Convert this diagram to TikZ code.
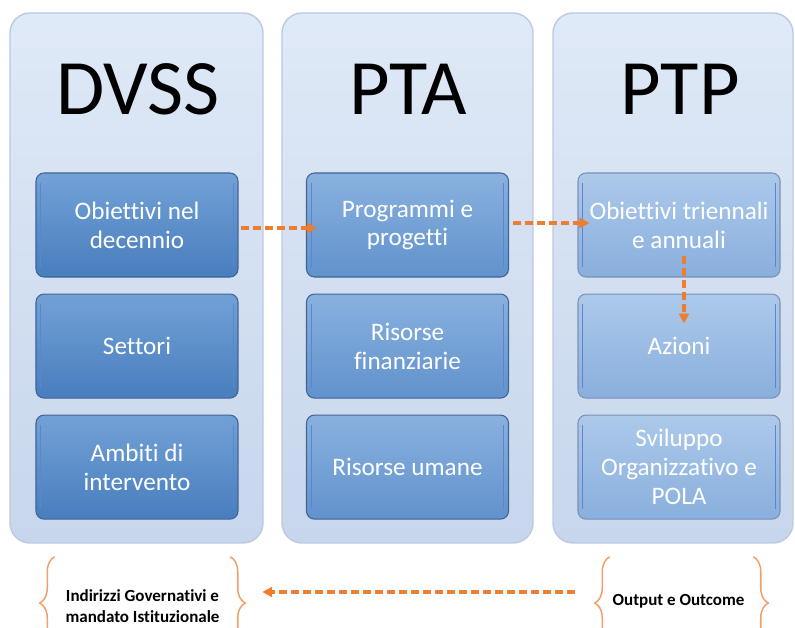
\documentclass[tikz,border=0pt]{standalone}
\usepackage{fontspec}
\setmainfont{Carlito}[Ligatures=NoCommon]
\usepackage{xcolor}
\definecolor{paneltop}{RGB}{223,233,247}
\definecolor{panelbottom}{RGB}{199,214,236}
\definecolor{paneledge}{RGB}{186,202,226}
\definecolor{dvsstop}{RGB}{114,161,214}
\definecolor{dvssbottom}{RGB}{72,126,190}
\definecolor{ptatop}{RGB}{137,177,223}
\definecolor{ptabottom}{RGB}{97,146,204}
\definecolor{ptptop}{RGB}{172,201,234}
\definecolor{ptpbottom}{RGB}{137,175,221}
\definecolor{boxedge}{RGB}{64,100,150}
\definecolor{myorange}{RGB}{237,125,49}
\definecolor{lightorange}{RGB}{242,160,105}
\usepackage{tikz}
\usetikzlibrary{calc}
\usetikzlibrary{positioning}
\usetikzlibrary{arrows.meta}
\usetikzlibrary{decorations.pathreplacing}
\newcommand{\widthbox}{6.06cm}
\newcommand{\heightbox}{3.12cm}
\newcommand{\heightpanel}{15.9cm}
\tikzset{
    panel/.style={draw=paneledge, line width=1.2pt, rounded corners=0.6cm,
        top color=paneltop, bottom color=panelbottom, minimum height=\heightpanel},
    common/.style={draw=boxedge, line width=0.9pt, rounded corners=0.24cm,
        minimum width=\widthbox, minimum height=\heightbox, inner sep=1pt,
        align=center, text=white, font=\fontsize{21.5}{24.7}\selectfont, bevel},
    dvssbox/.style={common, top color=dvsstop, bottom color=dvssbottom},
    ptabox/.style={common, top color=ptatop, bottom color=ptabottom},
    ptpbox/.style={common, top color=ptptop, bottom color=ptpbottom, draw=boxedge!70},
    bevel/.style={
        path picture={
            \draw[white!55!cyan!60!blue, line width=1.1pt]
                ($(path picture bounding box.north west)+(0.14cm,-0.3cm)$)
                  -- ($(path picture bounding box.south west)+(0.14cm,0.3cm)$)
                ($(path picture bounding box.north east)+(-0.14cm,-0.3cm)$)
                  -- ($(path picture bounding box.south east)+(-0.14cm,0.3cm)$);
        }
    },
    title/.style={anchor=base, font=\fontsize{67}{72}\selectfont},
    flow/.style={-{Triangle[length=0.3cm, width=0.3cm]}, myorange, line width=3pt,
        dash pattern=on 0.24cm off 0.12cm},
    group/.style={minimum height=2.76cm, inner sep=0pt},
    note/.style={align=center, inner sep=0pt, font=\fontsize{14.5}{18.4}\selectfont\bfseries},
    curly/.style={decorate, decoration={brace, amplitude=0.45cm}, lightorange, line width=1.3pt}
}

\begin{document}
\begin{tikzpicture}[x=0.03cm, y=-0.03cm]
    \clip (0,0) rectangle (795,628);

    % columns
    \node[panel, minimum width=7.59cm] (p-dvss) at (136.5,278) {};
    \node[panel, minimum width=7.53cm] (p-pta) at (407.5,278) {};
    \node[panel, minimum width=7.2cm] (p-ptp) at (673,278) {};

    \node[title] (t-dvss) at (138,115) {DVSS};
    \node[title] (t-pta) at (408,115) {PTA};
    \node[title] (t-ptp) at (680,115) {PTP};

    \begin{scope}[node distance=0.48cm]
        \node[dvssbox] (dvss-obiettivi) at (137,225) {Obiettivi nel\\decennio};
        \node[dvssbox, below=of dvss-obiettivi] (dvss-settori) {Settori};
        \node[dvssbox, below=of dvss-settori] (dvss-ambiti) {Ambiti di\\intervento};

        \node[ptabox] (pta-programmi) at (407.5,225) {Programmi e\\progetti};
        \node[ptabox, below=of pta-programmi] (pta-finanziarie) {Risorse\\finanziarie};
        \node[ptabox, below=of pta-finanziarie] (pta-umane) {Risorse umane};

        \node[ptpbox] (ptp-obiettivi) at (679,225) {Obiettivi triennali\\e annuali};
        \node[ptpbox, below=of ptp-obiettivi] (ptp-azioni) {Azioni};
        \node[ptpbox, below=of ptp-azioni] (ptp-sviluppo) {Sviluppo\\Organizzativo e\\POLA};
    \end{scope}

    \draw[flow] ($(dvss-obiettivi.east)+(2,3)$) -- ($(pta-programmi.west)+(11,3)$);
    \draw[flow] ($(pta-programmi.east)+(4,-2)$) -- ($(ptp-obiettivi.west)+(12,-2)$);
    \draw[flow] ($(ptp-obiettivi.south)+(5,-22)$) -- ($(ptp-azioni.north)+(5,30)$);

    % bottom
    \node[group, minimum width=5.25cm] (grp-indirizzi) at (142.5,603) {};
    \node[group, minimum width=4.29cm] (grp-outcome) at (681.5,603) {};
    \node[note] (txt-indirizzi) at ($(grp-indirizzi.center)+(0,3)$)
        {Indirizzi Governativi e\\mandato Istituzionale};
    \node[note] (txt-outcome) at ($(grp-outcome.center)+(-3,-2)$) {Output e Outcome};

    \draw[curly] (grp-indirizzi.south west) -- (grp-indirizzi.north west);
    \draw[curly] (grp-indirizzi.north east) -- (grp-indirizzi.south east);
    \draw[curly] (grp-outcome.south west) -- (grp-outcome.north west);
    \draw[curly] (grp-outcome.north east) -- (grp-outcome.south east);

    \draw[flow] ($(grp-outcome.west)+(-35,-11)$) -- ($(grp-indirizzi.east)+(32,-11)$);
\end{tikzpicture}
\end{document}
